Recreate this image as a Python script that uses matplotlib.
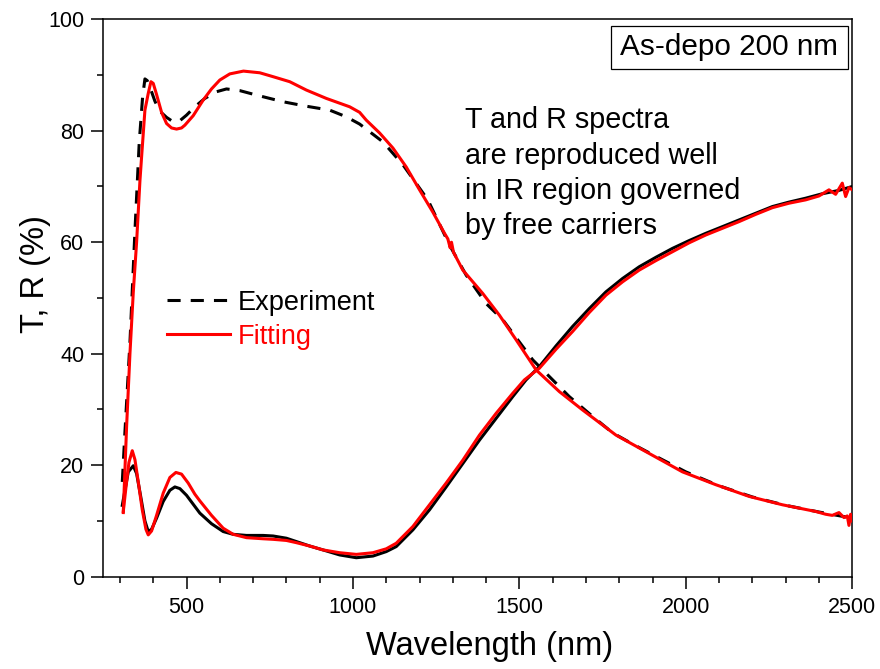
import matplotlib
matplotlib.use("Agg")
import matplotlib.pyplot as plt
from matplotlib.lines import Line2D
from matplotlib.patches import Rectangle
from matplotlib.ticker import MultipleLocator

plt.rcParams['font.family'] = ['Liberation Sans', 'DejaVu Sans']

# ---- data ----
t_exp_wl = [307, 315, 330, 345, 358, 368, 375, 382, 392, 405, 420, 440, 460, 480, 500, 525,
            555, 590, 620, 660, 710, 790, 860, 930, 980, 1020, 1090, 1150, 1225, 1290, 1340,
            1400, 1450, 1495, 1540, 1590, 1650, 1715, 1780, 1840, 1900, 2000, 2100, 2200,
            2300, 2400, 2500]
t_exp = [17, 26, 42, 62, 78, 86, 89.3, 89.0, 87.5, 85.3, 83.5, 82.4, 81.6, 81.8, 82.8, 84.3,
         85.8, 87.0, 87.5, 87.2, 86.4, 85.2, 84.4, 83.7, 82.5, 81.2, 78.0, 73.9, 67.6, 59.5, 54.1,
         49.0, 46.1, 42.5, 38.9, 35.9, 32.3, 29.0, 25.8, 23.8, 21.9, 18.8, 16.3, 14.3,
         12.8, 11.6, 10.5]

t_fit_wl = [310, 320, 330, 340, 350, 360, 365, 375, 385, 393, 400, 410, 425, 440, 455, 470,
            485, 495, 520, 550, 575, 600, 630, 671, 720, 760, 810, 860, 920, 990, 1020, 1040,
            1080, 1120, 1160, 1200, 1240, 1275, 1285, 1292, 1296, 1302, 1330, 1390, 1440, 1490,
            1550, 1620, 1690, 1790, 1890, 1990, 2090, 2190, 2290, 2390, 2420, 2440, 2460,
            2475, 2485, 2490, 2495, 2500]
t_fit = [11.5, 27, 40, 51, 60, 71, 75.3, 83.7, 86.7, 88.8, 88.5, 86.5, 83.3, 81.3, 80.5, 80.3,
         80.5, 81.0, 82.7, 85.5, 87.5, 89.1, 90.2, 90.7, 90.4, 89.7, 88.8, 87.3, 85.8, 84.3, 83.3, 81.9,
         79.6, 76.9, 73.5, 69.4, 65.4, 61.6, 60.6, 59.0, 60.0, 58.2, 55.0, 50.8, 46.9, 42.5,
         37.1, 33.2, 29.9, 25.4, 22.1, 18.8, 16.5, 14.4, 12.9, 11.7, 11.2, 11.0, 11.5,
         10.6, 10.9, 9.2, 11.2, 10.0]

r_exp_wl = [307, 315, 325, 340, 350, 362, 375, 385, 395, 410, 430, 450, 465, 480, 500, 520,
            540, 575, 610, 640, 680, 730, 760, 800, 830, 870, 910, 960, 1010, 1060, 1100, 1130,
            1180, 1230, 1280, 1330, 1380, 1430, 1480, 1520, 1560, 1610, 1660, 1710, 1760, 1810,
            1860, 1910, 1960, 2010, 2060, 2110, 2160, 2210, 2260, 2310, 2360, 2410, 2460, 2500]
r_exp = [12.8, 15.5, 18.8, 19.9, 18.5, 14.5, 10.0, 8.1, 8.5, 10.5, 13.5, 15.5, 16.1, 15.8, 14.6, 13.0,
         11.4, 9.5, 8.1, 7.6, 7.4, 7.4, 7.3, 6.9, 6.3, 5.5, 4.8, 3.9, 3.4, 3.7, 4.5, 5.4,
         8.4, 12.0, 16.1, 20.3, 24.5, 28.4, 32.3, 35.3, 37.7, 41.4, 44.9, 48.1, 51.1, 53.5,
         55.6, 57.3, 58.9, 60.3, 61.6, 62.8, 64.0, 65.2, 66.4, 67.2, 67.9, 68.7, 69.3, 70.0]

r_fit_wl = [310, 318, 327, 337, 345, 355, 367, 378, 385, 395, 410, 430, 450, 468, 485, 505,
            525, 540, 575, 610, 640, 680, 730, 760, 800, 830, 870, 910, 960, 1010, 1060, 1100,
            1130, 1180, 1230, 1280, 1330, 1380, 1430, 1480, 1515, 1560, 1610, 1660, 1710, 1760,
            1810, 1860, 1910, 1960, 2010, 2060, 2110, 2160, 2210, 2260, 2310, 2360, 2400, 2430,
            2450, 2470, 2480, 2490, 2500]
r_fit = [11.7, 16, 20.5, 22.6, 21, 17, 12, 8.5, 7.5, 8.2, 11, 15, 17.8, 18.7, 18.4, 16.8,
         14.8, 13.6, 11.0, 8.7, 7.6, 7.0, 6.8, 6.7, 6.5, 6.1, 5.5, 4.8, 4.3, 4.0, 4.3, 5.0,
         6.0, 9.0, 12.9, 16.8, 20.9, 25.4, 29.3, 32.9, 35.3, 37.4, 40.8, 44.0, 47.4, 50.5,
         52.9, 55.0, 56.7, 58.3, 59.9, 61.3, 62.5, 63.7, 65.0, 66.2, 67.0, 67.6, 68.3, 69.4,
         68.6, 70.6, 68.2, 69.8, 69.4]

x_ticks = [500, 1000, 1500, 2000, 2500]
y_ticks = [0, 20, 40, 60, 80, 100]
legend_labels = ["Experiment", "Fitting"]
sample_label = "As-depo 200 nm"
note_lines = ["T and R spectra", "are reproduced well",
              "in IR region governed", "by free carriers"]

# ---- figure ----
fig = plt.figure(figsize=(8.8, 6.69), dpi=100)
ax = fig.add_axes([0.1174, 0.138, 0.8511, 0.8332])

dash = (0, (4.3, 3.3))
lw = 2.2
ax.plot(t_exp_wl, t_exp, color='black', lw=lw, linestyle=dash, zorder=2)
ax.plot(r_exp_wl, r_exp, color='black', lw=lw, zorder=2)
ax.plot(t_fit_wl, t_fit, color='#ff0000', lw=lw, zorder=3)
ax.plot(r_fit_wl, r_fit, color='#ff0000', lw=lw, zorder=3)

ax.set_xlim(250, 2500)
ax.set_ylim(0, 100)
ax.set_xticks(x_ticks)
ax.set_yticks(y_ticks)
ax.xaxis.set_minor_locator(MultipleLocator(100))
ax.yaxis.set_minor_locator(MultipleLocator(10))
ax.tick_params(which='major', direction='out', length=8.6, width=1.1, labelsize=15.5, pad=5)
ax.tick_params(which='minor', direction='out', length=4.3, width=1.1)
ax.tick_params(axis='x', which='major', pad=6)
for s in ax.spines.values():
    s.set_linewidth(1.1)

ax.set_xlabel("Wavelength (nm)", fontsize=23.5)
ax.set_ylabel("T, R (%)", fontsize=23.5)
ax.xaxis.set_label_coords(0.516, -0.098)
ax.yaxis.set_label_coords(-0.07, 0.543)

handles = [Line2D([], [], color='black', lw=lw, linestyle=dash),
           Line2D([], [], color='#ff0000', lw=lw)]
leg = ax.legend(handles, legend_labels, loc='center left', bbox_to_anchor=(0.085, 0.461),
                frameon=False, fontsize=19.5, handlelength=2.32, handletextpad=0.3,
                labelspacing=0.28, borderpad=0, borderaxespad=0)
leg.get_texts()[1].set_color('#ff0000')

# sample box
ax.add_patch(Rectangle((0.6775, 0.9103), 0.3172, 0.0782, transform=ax.transAxes,
                       fill=False, edgecolor='black', lw=0.9, zorder=4))
ax.text(0.836, 0.9494, sample_label, transform=ax.transAxes, ha='center', va='center',
        fontsize=21.4, zorder=5)

for i, line in enumerate(note_lines):
    ax.text(0.4829, 0.8044 - i * 0.0634, line, transform=ax.transAxes,
            ha='left', va='baseline', fontsize=20.7)

fig.savefig("out.png", dpi=100)
